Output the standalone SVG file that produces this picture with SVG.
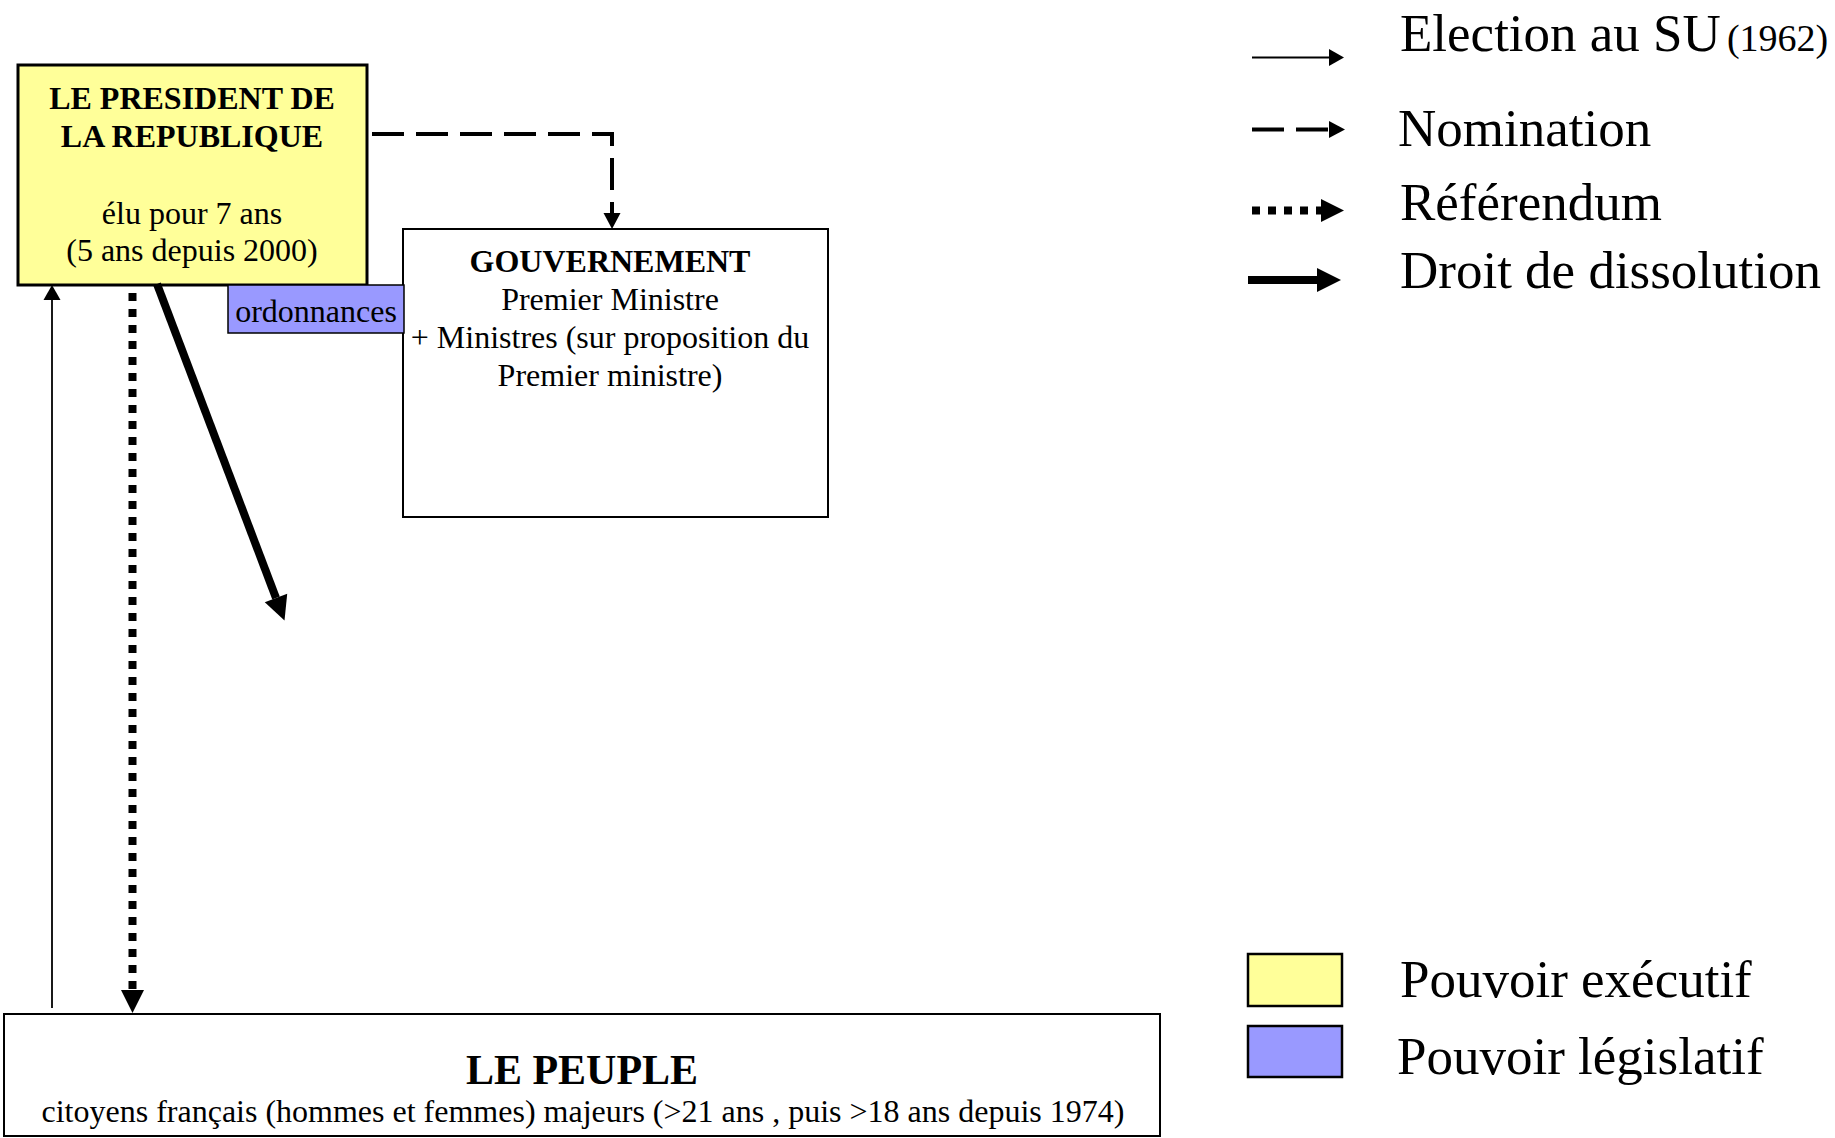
<svg xmlns="http://www.w3.org/2000/svg" width="1835" height="1138" viewBox="0 0 1835 1138">
  <style>
    text { font-family: "Liberation Serif", "Times New Roman", serif; fill: #000; }
    .t32 { font-size: 32px; }
    .b32 { font-size: 32px; font-weight: bold; }
    .leg { font-size: 53px; }
    .box { stroke: #000; }
    .exec { fill: #FFFF99; }
    .legis { fill: #9999FF; }
    .plain { fill: #FFFFFF; }
    .election { stroke: #000; stroke-width: 1.8; fill: none; }
    .nomination { stroke: #000; stroke-width: 4; fill: none; stroke-dasharray: 32 12; }
    .referendum { stroke: #000; stroke-width: 8; fill: none; stroke-dasharray: 8 8; }
    .dissolution { stroke: #000; stroke-width: 8; fill: none; }
  </style>
  <defs>
    <marker id="mElection" markerUnits="userSpaceOnUse" viewBox="0 -10 16 20" refX="0" refY="0" markerWidth="16" markerHeight="20" orient="auto" overflow="visible">
      <path d="M0,-8.5 L15,0 L0,8.5 z" fill="#000"/>
    </marker>
    <marker id="mNomination" markerUnits="userSpaceOnUse" viewBox="0 -10 17 20" refX="0" refY="0" markerWidth="17" markerHeight="20" orient="auto" overflow="visible">
      <path d="M0,-8.5 L16,0 L0,8.5 z" fill="#000"/>
    </marker>
    <marker id="mReferendum" markerUnits="userSpaceOnUse" viewBox="0 -12 24 24" refX="0" refY="0" markerWidth="24" markerHeight="24" orient="auto" overflow="visible">
      <path d="M0,-11.5 L23,0 L0,11.5 z" fill="#000"/>
    </marker>
    <marker id="mDissolution" markerUnits="userSpaceOnUse" viewBox="0 -13 25 26" refX="0" refY="0" markerWidth="25" markerHeight="26" orient="auto" overflow="visible">
      <path d="M0,-12 L24,0 L0,12 z" fill="#000"/>
    </marker>
  </defs>

  <rect width="1835" height="1138" fill="#FFFFFF"/>

  <g id="president">
    <rect class="box exec" x="18" y="65" width="349" height="220" stroke-width="3"/>
    <text class="b32" x="192" y="109" text-anchor="middle">LE PRESIDENT DE</text>
    <text class="b32" x="192" y="147" text-anchor="middle">LA REPUBLIQUE</text>
    <text class="t32" x="192" y="224" text-anchor="middle">élu pour 7 ans</text>
    <text class="t32" x="192" y="261" text-anchor="middle">(5 ans depuis 2000)</text>
  </g>

  <g id="gouvernement">
    <rect class="box plain" x="403" y="229" width="425" height="288" stroke-width="2"/>
    <text class="b32" x="610" y="272" text-anchor="middle">GOUVERNEMENT</text>
    <text class="t32" x="610" y="310" text-anchor="middle">Premier Ministre</text>
    <text class="t32" x="610" y="348" text-anchor="middle">+ Ministres (sur proposition du</text>
    <text class="t32" x="610" y="386" text-anchor="middle">Premier ministre)</text>
  </g>

  <g id="ordonnances">
    <rect class="box legis" x="228" y="285" width="176" height="48" stroke-width="1.5"/>
    <text class="t32" x="316" y="322" text-anchor="middle">ordonnances</text>
  </g>

  <g id="peuple">
    <rect class="box plain" x="4" y="1014" width="1156" height="122" stroke-width="2"/>
    <text x="582" y="1084" text-anchor="middle" font-size="42" font-weight="bold">LE PEUPLE</text>
    <text class="t32" x="583" y="1122" text-anchor="middle">citoyens français (hommes et femmes) majeurs (&gt;21 ans , puis &gt;18 ans depuis 1974)</text>
  </g>

  <g id="connectors">
    <path class="election" d="M52,1008 V300" marker-end="url(#mElection)"/>
    <path class="nomination" d="M372,134 H612 V213" marker-end="url(#mNomination)"/>
    <path class="referendum" d="M132.5,293 V990" marker-end="url(#mReferendum)"/>
    <path class="dissolution" d="M157,284 L276,598" marker-end="url(#mDissolution)"/>
  </g>

  <g id="legend">
    <path class="election" d="M1252,57.5 H1329" marker-end="url(#mElection)"/>
    <text class="leg" x="1400" y="51">Election au SU<tspan font-size="38" dx="6">(1962)</tspan></text>
    <path class="nomination" d="M1252,129.5 H1329" marker-end="url(#mNomination)"/>
    <text class="leg" x="1398" y="145.5">Nomination</text>
    <path class="referendum" d="M1252,210.5 H1321" marker-end="url(#mReferendum)"/>
    <text class="leg" x="1400" y="220">Référendum</text>
    <path class="dissolution" d="M1248,280 H1317" marker-end="url(#mDissolution)"/>
    <text class="leg" x="1400" y="288">Droit de dissolution</text>
    <rect class="box exec" x="1248" y="954" width="94" height="52" stroke-width="2.5"/>
    <text class="leg" x="1400" y="997">Pouvoir exécutif</text>
    <rect class="box legis" x="1248" y="1026" width="94" height="51" stroke-width="2.5"/>
    <text class="leg" x="1397" y="1074">Pouvoir législatif</text>
  </g>
</svg>
